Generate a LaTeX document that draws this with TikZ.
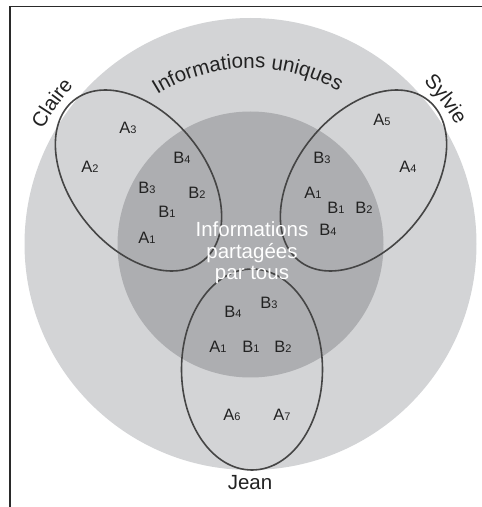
\documentclass[tikz,border=0pt]{standalone}
\usepackage{fontspec}
\setmainfont{Liberation Sans}
\usetikzlibrary{decorations.text,calc}
\definecolor{outerfill}{HTML}{D3D4D6}
\definecolor{innerfill}{HTML}{ADAEB1}
\definecolor{rim}{HTML}{454545}
\definecolor{ink}{HTML}{222222}
\definecolor{frame}{HTML}{2A2A2A}
\newcommand\bigf{\fontsize{20.5}{21.5}\selectfont}
\newcommand\smf{\fontsize{16.5}{17}\selectfont}
\newcommand\subf{\fontsize{11}{11}\selectfont}
\newcommand\lbl[2]{#1{\subf #2}}
\begin{document}
\begin{tikzpicture}[x=1pt,y=1pt,
  item/.style={font=\smf, text=ink, inner sep=0pt},
  big/.style={font=\bigf, text=ink, inner sep=0pt},
  person/.style={draw=rim, line width=1.6pt},
  arctext/.style={decorate, decoration={text along path, text={|\bigf\color{ink}|#1}, text align=center}}]
\useasboundingbox (0,0) rectangle (482,507);
\coordinate (C) at (250.5,263);
% zones
\fill[outerfill] (C) circle[radius=226];
\fill[innerfill] (250.5,262.5) circle[radius=133];
% frame
\draw[frame, line width=1.8pt] (10.3,0) -- (10.3,500.5) -- (482,500.5);
% persons
\draw[person] (252,137.5) ellipse[x radius=70.5, y radius=100.5];
\draw[person, shift={(138.5,326.5)}, rotate=39] (0,0) ellipse[x radius=67, y radius=103];
\draw[person, shift={(363.5,326.5)}, rotate=-39] (0,0) ellipse[x radius=67, y radius=103];
% curved titles
\path[arctext={Informations uniques}] ($(C)+(151:176)$) arc[start angle=151, end angle=31, radius=176];
\path[arctext={Claire}] ($(C)+(164.6:237.5)$) arc[start angle=164.6, end angle=124.6, radius=237.5];
\path[arctext={Sylvie}] ($(C)+(56.6:237.5)$) arc[start angle=56.6, end angle=16.6, radius=237.5];
% shared label
\node[font=\bigf, text=white, align=center, inner sep=0pt] (shared) at (252,254) {Informations\\partagées\\par tous};
\node[big] (jean) at (250,24) {Jean};
% Claire items
\node[item] (c3) at (128,379) {\lbl{A}{3}};
\node[item] (c2) at (90,340) {\lbl{A}{2}};
\node[item] (cb4) at (182,349) {\lbl{B}{4}};
\node[item] (cb3) at (147,319) {\lbl{B}{3}};
\node[item] (cb2) at (197,314) {\lbl{B}{2}};
\node[item] (cb1) at (167,295) {\lbl{B}{1}};
\node[item] (ca1) at (147,269) {\lbl{A}{1}};
% Sylvie items
\node[item] (s5) at (382,387) {\lbl{A}{5}};
\node[item] (s4) at (408,340) {\lbl{A}{4}};
\node[item] (sb3) at (322,349) {\lbl{B}{3}};
\node[item] (sa1) at (313,314) {\lbl{A}{1}};
\node[item] (sb1) at (336,299) {\lbl{B}{1}};
\node[item] (sb2) at (364,299) {\lbl{B}{2}};
\node[item] (sb4) at (328,277) {\lbl{B}{4}};
% Jean items
\node[item] (jb4) at (233,195) {\lbl{B}{4}};
\node[item] (jb3) at (269,204) {\lbl{B}{3}};
\node[item] (ja1) at (218,160) {\lbl{A}{1}};
\node[item] (jb1) at (251,160) {\lbl{B}{1}};
\node[item] (jb2) at (283,160) {\lbl{B}{2}};
\node[item] (j6) at (232,92) {\lbl{A}{6}};
\node[item] (j7) at (282,92) {\lbl{A}{7}};
\end{tikzpicture}
\end{document}
